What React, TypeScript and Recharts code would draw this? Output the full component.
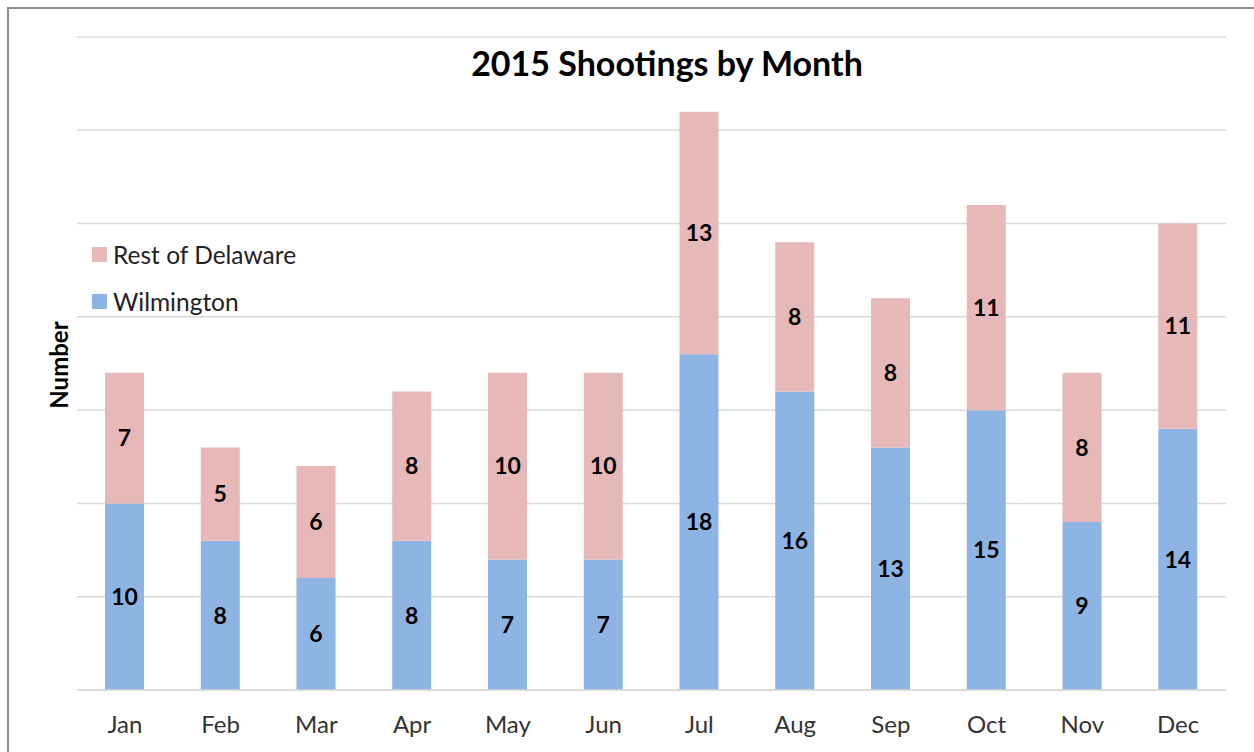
import React from "react";
import { BarChart, Bar, XAxis, YAxis, CartesianGrid, LabelList } from "recharts";

const months = ["Jan", "Feb", "Mar", "Apr", "May", "Jun", "Jul", "Aug", "Sep", "Oct", "Nov", "Dec"];
const wilmington = [10, 8, 6, 8, 7, 7, 18, 16, 13, 15, 9, 14];
const restOfDelaware = [7, 5, 6, 8, 10, 10, 13, 8, 8, 11, 8, 11];
const yTicks = [0, 5, 10, 15, 20, 25, 30, 35];

const BLUE = "#8eb4e3";
const PINK = "#e6b9b8";
const FONT = "Lato, 'Open Sans', sans-serif";

const data = months.map((m, i) => ({
  month: m,
  wilmington: wilmington[i],
  rest: restOfDelaware[i],
}));

const legendItems = [
  { name: "Rest of Delaware", color: PINK },
  { name: "Wilmington", color: BLUE },
];

const labelStyle = { fill: "#000", fontSize: 23, fontWeight: 700, fontFamily: FONT };

export default function App() {
  return (
    <div
      style={{
        position: "fixed",
        left: 0,
        top: 0,
        width: 1254,
        height: 752,
        overflow: "hidden",
        background: "#fff",
        fontFamily: FONT,
      }}
    >
      <div
        style={{
          position: "absolute",
          left: 7,
          top: 7,
          width: 1300,
          height: 800,
          border: "2px solid #8c8c8c",
        }}
      />
      <BarChart
        width={1254}
        height={752}
        data={data}
        margin={{ top: 37, right: 28, bottom: 32, left: 77 }}
        barSize={39}
        style={{ position: "absolute", left: 0, top: 0 }}
      >
        <CartesianGrid horizontal vertical={false} stroke="#d9d9d9" strokeWidth={1.5} />
        <YAxis hide domain={[0, 35]} ticks={yTicks} />
        <XAxis
          dataKey="month"
          axisLine={{ stroke: "#d9d9d9", strokeWidth: 1.5 }}
          tickLine={false}
          tickMargin={20}
          height={30}
          tick={{ fontSize: 24, fill: "#333", fontFamily: FONT }}
        />
        <Bar dataKey="wilmington" stackId="a" fill={BLUE} isAnimationActive={false}>
          <LabelList dataKey="wilmington" position="center" style={labelStyle} />
        </Bar>
        <Bar dataKey="rest" stackId="a" fill={PINK} isAnimationActive={false}>
          <LabelList dataKey="rest" position="center" style={labelStyle} />
        </Bar>
      </BarChart>
      <div
        style={{
          position: "absolute",
          left: 0,
          width: 1334,
          top: 42,
          textAlign: "center",
          fontSize: 34,
          fontWeight: 700,
          color: "#000",
        }}
      >
        2015 Shootings by Month
      </div>
      <div
        style={{
          position: "absolute",
          left: 58,
          top: 365,
          transform: "translate(-50%, -50%) rotate(-90deg)",
          fontSize: 24,
          fontWeight: 700,
          color: "#000",
          whiteSpace: "nowrap",
        }}
      >
        Number
      </div>
      <div style={{ position: "absolute", left: 92, top: 231 }}>
        {legendItems.map((it) => (
          <div
            key={it.name}
            style={{ display: "flex", alignItems: "center", height: 47, fontSize: 24.5, color: "#222" }}
          >
            <span style={{ width: 15, height: 15, background: it.color, marginRight: 6, display: "inline-block" }} />
            {it.name}
          </div>
        ))}
      </div>
    </div>
  );
}
